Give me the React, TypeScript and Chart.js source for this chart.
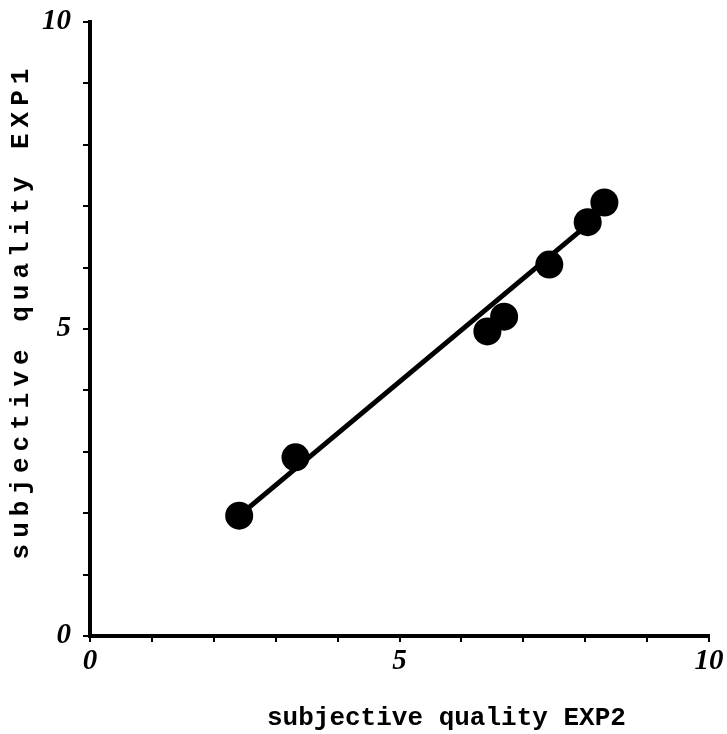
import React, { useEffect, useRef } from "react";
import { Chart, registerables } from "chart.js";

Chart.register(...registerables);

// subjective quality EXP2 (x) vs EXP1 (y)
const expTwoValues = [2.41, 3.32, 6.42, 6.69, 7.42, 8.04, 8.31];
const expOneValues = [1.96, 2.91, 4.96, 5.2, 6.05, 6.74, 7.06];
// regression line end points
const fitLineX = [2.41, 8.04];
const fitLineY = [1.96, 6.7];
// labelled tick values
const labeledTicks = [0, 5, 10];
const xTitle = "subjective quality EXP2";
const yTitle = "subjective quality EXP1";

const W = 727;
const H = 734;
const AREA_LEFT = 90;
const AREA_RIGHT = 709;
const AREA_TOP = 22;
const AREA_BOTTOM = 636;

const titlesPlugin = {
  id: "axisTitles",
  afterDraw(chart: any) {
    const { ctx } = chart;
    // y title (letter-spaced, rotated)
    ctx.save();
    ctx.translate(28, 311);
    ctx.rotate(-Math.PI / 2);
    ctx.font = "bold 26px 'Liberation Mono', 'Courier New', monospace";
    try {
      (ctx as any).letterSpacing = "6px";
    } catch (e) {}
    ctx.fillStyle = "#000";
    ctx.textAlign = "center";
    ctx.textBaseline = "alphabetic";
    ctx.fillText(yTitle, 0, 0);
    ctx.restore();

    // x title
    ctx.save();
    ctx.font = "bold 26px 'Liberation Mono', 'Courier New', monospace";
    ctx.fillStyle = "#000";
    ctx.textAlign = "left";
    ctx.textBaseline = "alphabetic";
    ctx.fillText(xTitle, 267, 725);
    ctx.restore();
  },
};

export default function App() {
  const ref = useRef<HTMLCanvasElement | null>(null);

  useEffect(() => {
    if (!ref.current) return;
    const tickFont = {
      family: "'Liberation Serif', 'Times New Roman', serif",
      size: 29,
      weight: "bold" as const,
      style: "italic" as const,
    };
    const tickCb = (v: any) => (labeledTicks.includes(Number(v)) ? String(v) : "");
    const chart = new Chart(ref.current, {
      type: "scatter",
      data: {
        datasets: [
          {
            label: "fit",
            data: fitLineX.map((x, i) => ({ x, y: fitLineY[i] })),
            showLine: true,
            borderColor: "#000",
            borderWidth: 5,
            pointRadius: 0,
            fill: false,
            clip: false as any,
          },
          {
            label: "data",
            data: expTwoValues.map((x, i) => ({ x, y: expOneValues[i] })),
            backgroundColor: "#000",
            borderColor: "#000",
            borderWidth: 0,
            pointRadius: 14,
            pointHoverRadius: 14,
            clip: false as any,
          },
        ],
      },
      options: {
        animation: false,
        responsive: false,
        maintainAspectRatio: false,
        layout: {
          padding: { left: 0, right: W - AREA_RIGHT, top: AREA_TOP, bottom: 0 },
        },
        plugins: {
          legend: { display: false },
          tooltip: { enabled: false },
        },
        scales: {
          x: {
            type: "linear",
            min: 0,
            max: 10,
            ticks: {
              stepSize: 1,
              autoSkip: false,
              maxRotation: 0,
              callback: tickCb,
              color: "#000",
              font: tickFont,
              padding: 2,
            },
            grid: {
              drawOnChartArea: false,
              drawTicks: true,
              tickLength: 6,
              color: "#000",
              lineWidth: 2,
            },
            border: { display: true, color: "#000", width: 4 },
            title: { display: false },
            afterFit: (s: any) => {
              s.height = H - AREA_BOTTOM;
              s.paddingLeft = 0;
              s.paddingRight = 0;
            },
          },
          y: {
            type: "linear",
            min: 0,
            max: 10,
            ticks: {
              stepSize: 1,
              autoSkip: false,
              callback: tickCb,
              color: "#000",
              font: tickFont,
              padding: 12,
            },
            grid: {
              drawOnChartArea: false,
              drawTicks: true,
              tickLength: 7,
              color: "#000",
              lineWidth: 2,
            },
            border: { display: true, color: "#000", width: 4 },
            title: { display: false },
            afterFit: (s: any) => {
              s.width = AREA_LEFT;
              s.paddingTop = 0;
              s.paddingBottom = 0;
            },
          },
        },
      },
      plugins: [titlesPlugin],
    });
    return () => chart.destroy();
  }, []);

  return (
    <div style={{ position: "fixed", left: 0, top: 0, width: W, height: H, background: "#fff" }}>
      <canvas ref={ref} width={W} height={H} style={{ display: "block", width: W, height: H }} />
    </div>
  );
}
